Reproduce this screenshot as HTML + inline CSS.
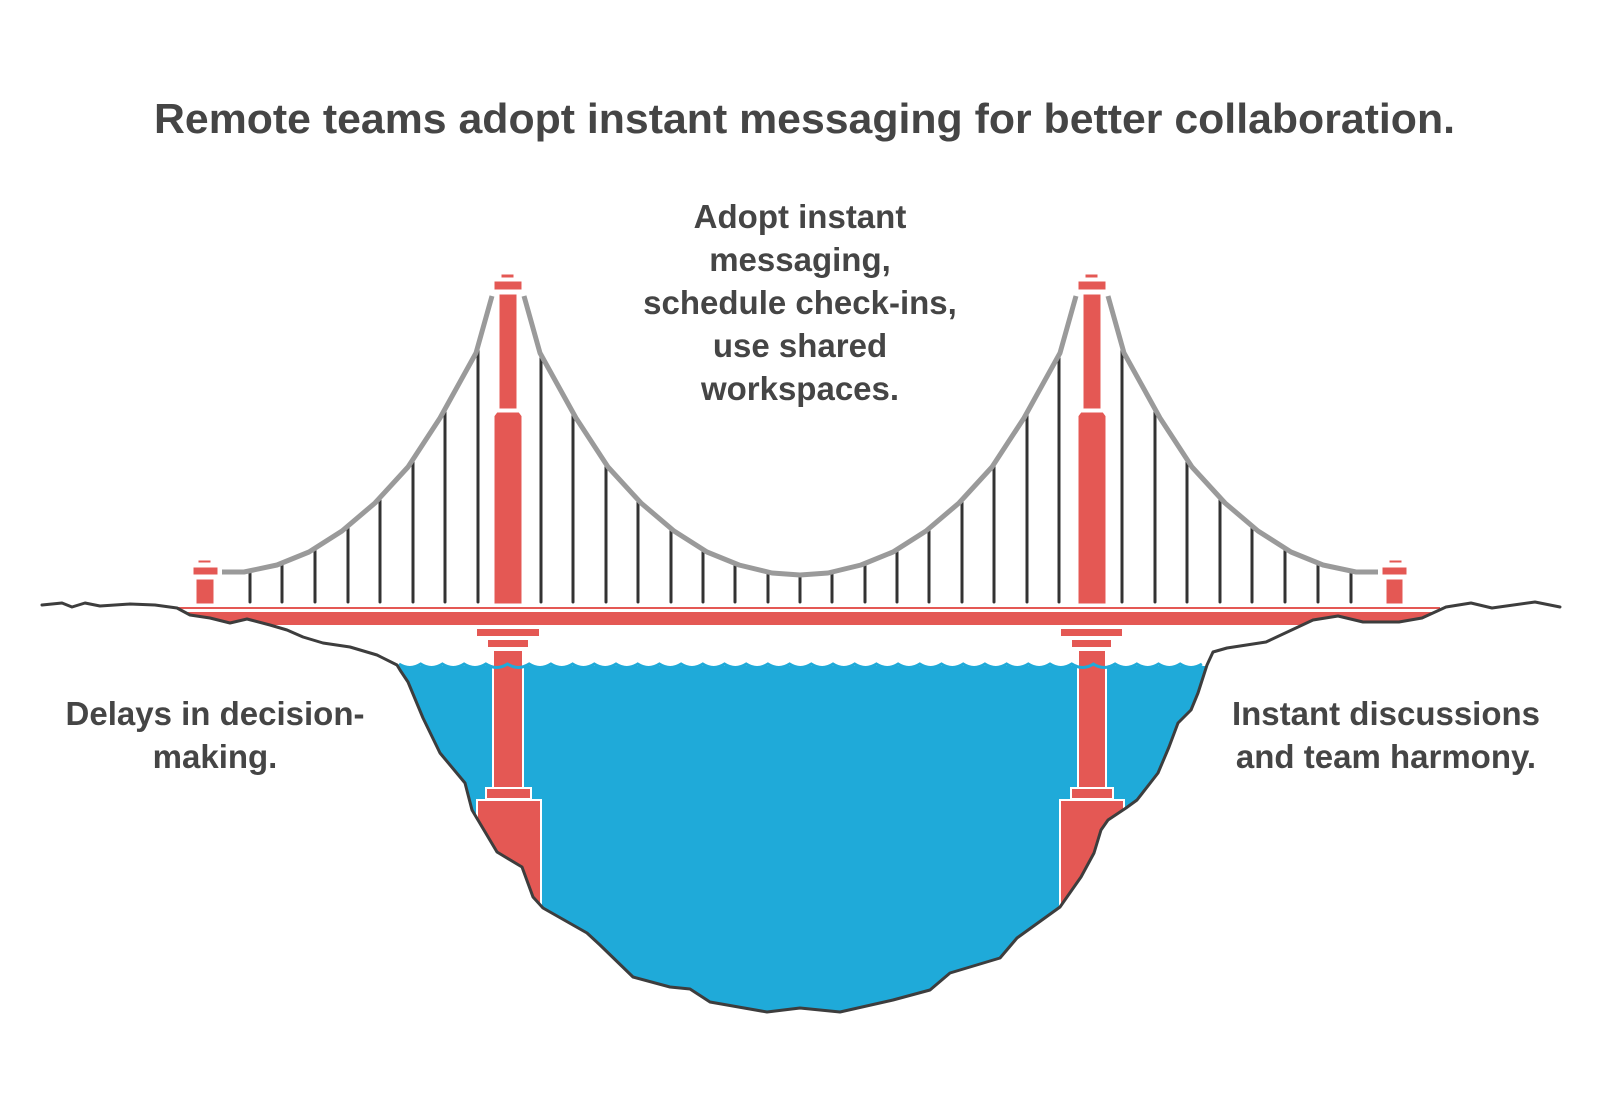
<!DOCTYPE html>
<html><head><meta charset="utf-8"><style>
html,body{margin:0;padding:0;background:#fff;}
svg{display:block;}
text{font-family:"Liberation Sans",Arial,sans-serif;font-weight:bold;fill:#454545;}
</style></head><body>
<svg width="1600" height="1101" viewBox="0 0 1600 1101" xmlns="http://www.w3.org/2000/svg">
<rect width="1600" height="1101" fill="#fff"/>

<!-- water -->
<path fill="#1FAAD9" d="M397,666 L1207,666 L1198,693 L1191,710 L1178,723 L1169,747 L1158,773 L1137,800 L1126,808 L1108,820 L1101,830 L1094,853 L1081,877 L1060,907 L1017,938 L1000,958 L950,973 L930,990 L893,1000 L840,1012 L800,1008 L767,1012 L710,1002 L690,989 L670,987 L633,977 L600,945 L587,933 L543,908 L533,897 L522,867 L497,852 L472,810 L465,783 L440,753 L423,718 L408,682 L400,670 Z"/>
<path fill="none" stroke="#1FAAD9" stroke-width="3" d="M399,664 q10.85,7 21.7,0 q10.85,7 21.7,0 q10.85,7 21.7,0 q10.85,7 21.7,0 q10.85,7 21.7,0 q10.85,7 21.7,0 q10.85,7 21.7,0 q10.85,7 21.7,0 q10.85,7 21.7,0 q10.85,7 21.7,0 q10.85,7 21.7,0 q10.85,7 21.7,0 q10.85,7 21.7,0 q10.85,7 21.7,0 q10.85,7 21.7,0 q10.85,7 21.7,0 q10.85,7 21.7,0 q10.85,7 21.7,0 q10.85,7 21.7,0 q10.85,7 21.7,0 q10.85,7 21.7,0 q10.85,7 21.7,0 q10.85,7 21.7,0 q10.85,7 21.7,0 q10.85,7 21.7,0 q10.85,7 21.7,0 q10.85,7 21.7,0 q10.85,7 21.7,0 q10.85,7 21.7,0 q10.85,7 21.7,0 q10.85,7 21.7,0 q10.85,7 21.7,0 q10.85,7 21.7,0 q10.85,7 21.7,0 q10.85,7 21.7,0 q10.85,7 21.7,0 q10.85,7 21.7,0"/>

<!-- piers -->
<g fill="#E45854" stroke="#fff" stroke-width="2">
<rect x="493" y="650" width="30" height="140"/>
<rect x="486" y="788" width="45" height="11"/>
<rect x="477" y="800" width="64" height="140"/>
<rect x="1078" y="650" width="28" height="140"/>
<rect x="1071" y="788" width="42" height="11"/>
<rect x="1060" y="800" width="64" height="140"/>
</g>
<g fill="#E45854">
<rect x="477" y="629" width="62" height="7"/>
<rect x="488" y="640" width="40" height="7"/>
<rect x="1061" y="629" width="61" height="7"/>
<rect x="1072" y="640" width="39" height="7"/>
</g>
<path fill="none" stroke="#1FAAD9" stroke-width="3" d="M485.8,664 q10.85,7 21.7,0 q10.85,7 21.7,0 M1071.7,664 q10.85,7 21.7,0 q10.85,7 21.7,0"/>

<!-- deck -->
<rect x="175" y="607" width="1265" height="2" fill="#E45854"/>
<rect x="175" y="612" width="1265" height="13" fill="#E45854"/>

<!-- land cover -->
<path fill="#fff" d="M42,605 L62,603 L72,607 L85,603 L100,606 L130,604 L155,605 L177,608 L190,615 L210,618 L230,623 L247,619 L270,625 L287,630 L303,637 L323,643 L350,647 L377,655 L397,665 L400,670 L408,682 L423,718 L440,753 L465,783 L472,810 L497,852 L522,867 L533,897 L543,908 L587,933 L600,945 L633,977 L670,987 L690,989 L710,1002 L767,1012 L800,1008 L840,1012 L893,1000 L930,990 L950,973 L1000,958 L1017,938 L1060,907 L1081,877 L1094,853 L1101,830 L1108,820 L1126,808 L1137,800 L1158,773 L1169,747 L1178,723 L1191,710 L1198,693 L1207,665 L1213,652 L1227,648 L1266,642 L1313,620 L1338,616 L1363,622 L1399,622 L1422,618 L1446,607 L1471,603 L1492,608 L1535,602 L1560,607 L1560,1101 L42,1101 Z"/>
<path fill="none" stroke="#3d3d3d" stroke-width="3" stroke-linejoin="round" stroke-linecap="round" d="M42,605 L62,603 L72,607 L85,603 L100,606 L130,604 L155,605 L177,608 L190,615 L210,618 L230,623 L247,619 L270,625 L287,630 L303,637 L323,643 L350,647 L377,655 L397,665 L400,670 L408,682 L423,718 L440,753 L465,783 L472,810 L497,852 L522,867 L533,897 L543,908 L587,933 L600,945 L633,977 L670,987 L690,989 L710,1002 L767,1012 L800,1008 L840,1012 L893,1000 L930,990 L950,973 L1000,958 L1017,938 L1060,907 L1081,877 L1094,853 L1101,830 L1108,820 L1126,808 L1137,800 L1158,773 L1169,747 L1178,723 L1191,710 L1198,693 L1207,665 L1213,652 L1227,648 L1266,642 L1313,620 L1338,616 L1363,622 L1399,622 L1422,618 L1446,607 L1471,603 L1492,608 L1535,602 L1560,607"/>

<!-- hangers -->
<g stroke="#333" stroke-width="3" stroke-linecap="round">
<line x1="250" y1="571" x2="250" y2="602"/><line x1="282" y1="563" x2="282" y2="602"/><line x1="315" y1="548" x2="315" y2="602"/><line x1="348" y1="526" x2="348" y2="602"/><line x1="380" y1="498" x2="380" y2="602"/><line x1="413" y1="460" x2="413" y2="602"/><line x1="445" y1="410" x2="445" y2="602"/><line x1="478" y1="350" x2="478" y2="602"/>
<line x1="541" y1="355" x2="541" y2="602"/><line x1="573" y1="413" x2="573" y2="602"/><line x1="606" y1="464" x2="606" y2="602"/><line x1="638" y1="500" x2="638" y2="602"/><line x1="671" y1="528" x2="671" y2="602"/><line x1="703" y1="550" x2="703" y2="602"/><line x1="735" y1="564" x2="735" y2="602"/><line x1="768" y1="572" x2="768" y2="602"/><line x1="800" y1="575" x2="800" y2="602"/><line x1="832" y1="572" x2="832" y2="602"/><line x1="865" y1="564" x2="865" y2="602"/><line x1="897" y1="550" x2="897" y2="602"/><line x1="929" y1="528" x2="929" y2="602"/><line x1="962" y1="500" x2="962" y2="602"/><line x1="994" y1="464" x2="994" y2="602"/><line x1="1027" y1="413" x2="1027" y2="602"/><line x1="1059" y1="355" x2="1059" y2="602"/>
<line x1="1122" y1="350" x2="1122" y2="602"/><line x1="1155" y1="410" x2="1155" y2="602"/><line x1="1187" y1="460" x2="1187" y2="602"/><line x1="1220" y1="498" x2="1220" y2="602"/><line x1="1252" y1="526" x2="1252" y2="602"/><line x1="1285" y1="548" x2="1285" y2="602"/><line x1="1318" y1="563" x2="1318" y2="602"/><line x1="1351" y1="571" x2="1351" y2="602"/>
</g>

<!-- cables -->
<g fill="none" stroke="#9a9a9a" stroke-width="5" stroke-linejoin="round">
<path d="M222,572 L244,572 L277,565 L309,552 L342,531 L375,503 L408,467 L440,418 L476,353 L492,296"/>
<path d="M524,296 L540,353 L576,418 L608,467 L641,503 L674,531 L707,552 L739,565 L772,573 L800,575 L828,573 L861,565 L893,552 L926,531 L959,503 L992,467 L1024,418 L1060,353 L1076,296"/>
<path d="M1108,296 L1124,353 L1160,418 L1192,467 L1225,503 L1258,531 L1291,552 L1323,565 L1356,572 L1378,572"/>
</g>

<!-- towers -->
<g fill="#E45854" stroke="#fff" stroke-width="1">
<rect x="501" y="274" width="13" height="4"/>
<rect x="494" y="281" width="28" height="9"/>
<rect x="499" y="294" width="18" height="115"/>
<path d="M497,412 L519,412 L522,416 L522,604 L494,604 L494,416 Z"/>
<rect x="1085" y="274" width="13" height="4"/>
<rect x="1078" y="281" width="28" height="9"/>
<rect x="1083" y="294" width="18" height="115"/>
<path d="M1081,412 L1103,412 L1106,416 L1106,604 L1078,604 L1078,416 Z"/>
<rect x="198" y="560" width="13" height="3"/>
<rect x="193" y="567" width="25" height="8"/>
<rect x="196" y="579" width="18" height="25"/>
<rect x="1389" y="560" width="13" height="3"/>
<rect x="1382" y="567" width="25" height="8"/>
<rect x="1386" y="579" width="17" height="25"/>
</g>

<text x="154" y="133" font-size="42" textLength="1301" lengthAdjust="spacingAndGlyphs">Remote teams adopt instant messaging for better collaboration.</text>
<g font-size="33" text-anchor="middle">
<text x="800" y="228">Adopt instant</text>
<text x="800" y="271">messaging,</text>
<text x="800" y="314">schedule check-ins,</text>
<text x="800" y="357">use shared</text>
<text x="800" y="400">workspaces.</text>
<text x="215" y="725">Delays in decision-</text>
<text x="215" y="768">making.</text>
<text x="1386" y="725">Instant discussions</text>
<text x="1386" y="768">and team harmony.</text>
</g>
</svg>
</body></html>
